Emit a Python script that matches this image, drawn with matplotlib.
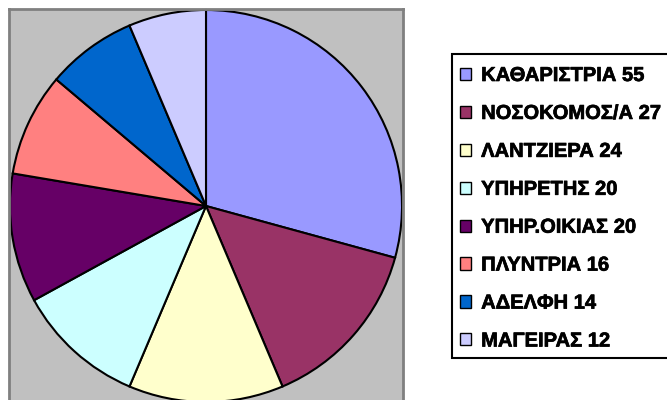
import matplotlib
matplotlib.use("Agg")
import matplotlib.pyplot as plt
import matplotlib.patheffects as pe
from matplotlib.font_manager import FontProperties
from matplotlib.patches import Rectangle

# Occupations and counts
labels = ["ΚΑΘΑΡΙΣΤΡΙΑ", "ΝΟΣΟΚΟΜΟΣ/Α", "ΛΑΝΤΖΙΕΡΑ", "ΥΠΗΡΕΤΗΣ",
          "ΥΠΗΡ.ΟΙΚΙΑΣ", "ΠΛΥΝΤΡΙΑ", "ΑΔΕΛΦΗ", "ΜΑΓΕΙΡΑΣ"]
counts = [55, 27, 24, 20, 20, 16, 14, 12]
colors = ["#9999FF", "#993366", "#FFFFCC", "#CCFFFF",
          "#660066", "#FF8080", "#0066CC", "#CCCCFF"]

plt.rcParams["font.family"] = ["Liberation Sans", "DejaVu Sans"]

W, H = 667, 400
fig = plt.figure(figsize=(W / 100, H / 100), dpi=100)

# gray plot area, square, bottom runs slightly past the figure edge
x0, y0, side = 9, 9, 394
ax = fig.add_axes([x0 / W, (H - y0 - side) / H, side / W, side / H])

wedges, _ = ax.pie(counts, colors=colors, startangle=90, counterclock=False,
                   radius=1.0, frame=True,
                   wedgeprops=dict(edgecolor="black", linewidth=1.5))
ax.set_axis_on()
ax.set_facecolor("#C0C0C0")
for s in ax.spines.values():
    s.set_visible(True)
    s.set_edgecolor("#808080")
    s.set_linewidth(2)
ax.set_xlim(-1.005, 1.005)
ax.set_ylim(-1.005, 1.005)
ax.set_aspect("auto")
ax.set_xticks([])
ax.set_yticks([])

# legend box runs off the right edge, so draw its frame separately
box_l, box_t, box_b = 452.5, 54, 357.5
fig.add_artist(Rectangle((box_l / W, 1 - box_b / H), (720 - box_l) / W,
                         (box_b - box_t) / H, transform=fig.transFigure,
                         facecolor="white", edgecolor="black", linewidth=1.5,
                         zorder=1))

legend_font = FontProperties(family="Liberation Sans", weight="bold", size=14.5)
leg_labels = [f"{l} {c}" for l, c in zip(labels, counts)]
leg = fig.legend(wedges, leg_labels, loc="upper left",
                 bbox_to_anchor=(460 / W, 1 - 66 / H),
                 prop=legend_font, frameon=False,
                 handlelength=0.55, handleheight=0.55, handletextpad=0.5,
                 labelspacing=0.94, borderpad=0, borderaxespad=0)
leg.set_zorder(2)
for h in leg.legend_handles:
    h.set_linewidth(1.0)
for t in leg.get_texts():
    t.set_path_effects([pe.withStroke(linewidth=0.5, foreground="black")])

fig.savefig("out.png", dpi=100)
